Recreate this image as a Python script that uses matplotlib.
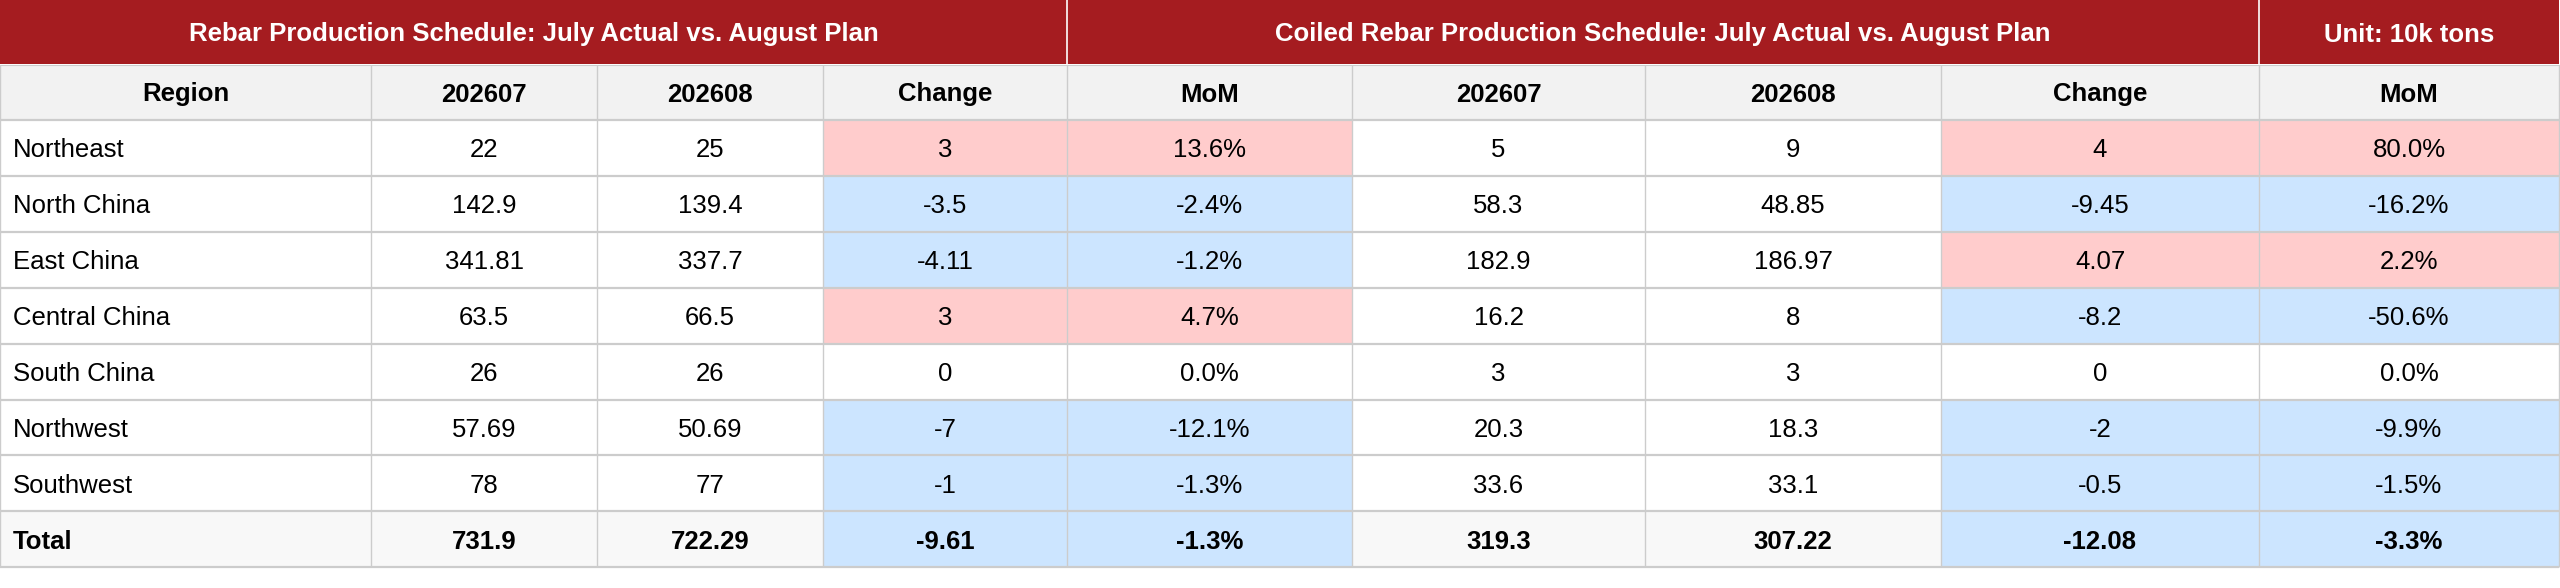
"""
Rebar / coiled rebar production schedule table: July actual vs. August plan
"""
import matplotlib
matplotlib.use("Agg")
import matplotlib.pyplot as plt
from matplotlib.patches import Rectangle

plt.rcParams["font.family"] = ["Liberation Sans", "DejaVu Sans"]

# ---------------------------------------------------------------
# data
# ---------------------------------------------------------------
group_titles = ["Rebar Production Schedule: July Actual vs. August Plan",
                "Coiled Rebar Production Schedule: July Actual vs. August Plan",
                "Unit: 10k tons"]
col_headers = ["Region", "202607", "202608", "Change", "MoM",
               "202607", "202608", "Change", "MoM"]

regions = ["Northeast", "North China", "East China", "Central China",
           "South China", "Northwest", "Southwest", "Total"]
rebar_jul = [22, 142.9, 341.81, 63.5, 26, 57.69, 78, 731.9]
rebar_aug = [25, 139.4, 337.7, 66.5, 26, 50.69, 77, 722.29]
rebar_chg = [3, -3.5, -4.11, 3, 0, -7, -1, -9.61]
rebar_mom = [13.6, -2.4, -1.2, 4.7, 0.0, -12.1, -1.3, -1.3]
coil_jul = [5, 58.3, 182.9, 16.2, 3, 20.3, 33.6, 319.3]
coil_aug = [9, 48.85, 186.97, 8, 3, 18.3, 33.1, 307.22]
coil_chg = [4, -9.45, 4.07, -8.2, 0, -2, -0.5, -12.08]
coil_mom = [80.0, -16.2, 2.2, -50.6, 0.0, -9.9, -1.5, -3.3]

# ---------------------------------------------------------------
# layout (pixels)
# ---------------------------------------------------------------
W, H = 2560, 588
col_x = [0, 371, 597, 823, 1067, 1352, 1645, 1941, 2259, 2559]
group_span = [(0, 4), (4, 8), (8, 9)]     # column index ranges for the red header
top_h, sub_h, row_h = 64, 56, 55.9

RED = "#A51C20"
SUB_BG = "#F2F2F2"
TOTAL_BG = "#F8F8F8"
POS_BG = "#FFCCCC"
NEG_BG = "#CCE5FF"
GRID = "#CCCCCC"
FS = 18.5
VA = "center_baseline"

fig = plt.figure(figsize=(W / 100, H / 100), dpi=100)
ax = fig.add_axes([0, 0, 1, 1])
ax.set_xlim(0, W)
ax.set_ylim(H, 0)
ax.axis("off")


def fmt(v):
    return f"{v:g}"


def shade(v, base):
    if v > 0:
        return POS_BG
    if v < 0:
        return NEG_BG
    return base


# red group header
for title, (a, b) in zip(group_titles, group_span):
    x0, x1 = col_x[a], col_x[b]
    ax.add_patch(Rectangle((x0, 0), x1 - x0, top_h, facecolor=RED, edgecolor="none"))
    ax.text((x0 + x1) / 2, top_h / 2, title, ha="center", va=VA,
            color="white", fontsize=FS, fontweight="bold")
for a, b in group_span[1:]:
    ax.plot([col_x[a], col_x[a]], [0, top_h], color="white", lw=1.2)

# column headers
y0 = top_h + 1
for i, h in enumerate(col_headers):
    x0, x1 = col_x[i], col_x[i + 1]
    ax.add_patch(Rectangle((x0, y0), x1 - x0, sub_h - 1, facecolor=SUB_BG, edgecolor="none"))
    ax.text((x0 + x1) / 2, top_h + sub_h / 2, h, ha="center", va=VA,
            fontsize=FS, fontweight="bold", color="black")

# body rows
body_top = top_h + sub_h
for r, reg in enumerate(regions):
    y = body_top + r * row_h
    is_total = reg == "Total"
    base = TOTAL_BG if is_total else "white"
    weight = "bold" if is_total else "normal"
    cells = [
        (reg, base),
        (fmt(rebar_jul[r]), base),
        (fmt(rebar_aug[r]), base),
        (fmt(rebar_chg[r]), shade(rebar_chg[r], base)),
        (f"{rebar_mom[r]:.1f}%", shade(rebar_chg[r], base)),
        (fmt(coil_jul[r]), base),
        (fmt(coil_aug[r]), base),
        (fmt(coil_chg[r]), shade(coil_chg[r], base)),
        (f"{coil_mom[r]:.1f}%", shade(coil_chg[r], base)),
    ]
    for c, (txt, bg) in enumerate(cells):
        x0, x1 = col_x[c], col_x[c + 1]
        ax.add_patch(Rectangle((x0, y), x1 - x0, row_h, facecolor=bg, edgecolor="none"))
        if c == 0:
            ax.text(x0 + 13, y + row_h / 2, txt, ha="left", va=VA,
                    fontsize=FS, fontweight=weight, color="black")
        else:
            ax.text((x0 + x1) / 2, y + row_h / 2, txt, ha="center", va=VA,
                    fontsize=FS, fontweight=weight, color="black")

# grid lines
bottom = body_top + len(regions) * row_h
for k in range(len(regions) + 1):
    y = body_top + k * row_h
    ax.plot([0, col_x[-1]], [y, y], color=GRID, lw=1.6, solid_capstyle="butt")
ax.plot([0, col_x[-1]], [top_h + 1, top_h + 1], color=GRID, lw=0.8)
for x in col_x:
    ax.plot([x, x], [top_h + 1, bottom], color=GRID, lw=1.0, solid_capstyle="butt")

fig.savefig("out.png", dpi=100, facecolor="white")
